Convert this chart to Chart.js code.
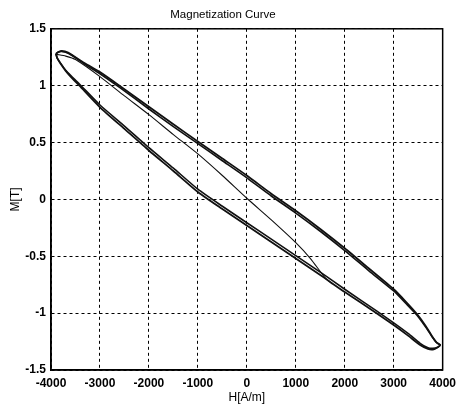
<!DOCTYPE html>
<html>
<head>
<meta charset="utf-8">
<title>Magnetization Curve</title>
<script src="https://cdn.jsdelivr.net/npm/chart.js@4.4.1/dist/chart.umd.min.js"></script>
<style>
  html, body { margin: 0; padding: 0; background: #fff; }
</style>
</head>
<body>
<canvas id="chart" width="462" height="408"></canvas>
<script>
// tick labels
const hTicks = [-4000, -3000, -2000, -1000, 0, 1000, 2000, 3000, 4000];
const mTicks = [-1.5, -1, -0.5, 0, 0.5, 1, 1.5];

// hysteresis loop: upper branch left -> right, then lower branch right -> left
const loopH = [
    -3900, -3850, -3780, -3650, -3500, -3300, -3000, -2600, -2000, -1500, -1000, -500, 0,
    500, 1000, 1500, 2000, 2500, 3000, 3250, 3480, 3650, 3780, 3880, 3950,
    3900, 3800, 3700, 3540, 3300, 3000, 2650, 2000, 1500, 1000, 500, 0,
    -500, -1000, -1500, -2000, -2500, -3000, -3420, -3600, -3700, -3800, -3870, -3900
];
// two traces of the same loop (they run side by side)
const loopM1 = [
    1.28, 1.295, 1.305, 1.29, 1.25, 1.195, 1.12, 1.00, 0.815, 0.66, 0.51, 0.36, 0.21,
    0.05, -0.10, -0.26, -0.43, -0.61, -0.79, -0.90, -1.01, -1.11, -1.20, -1.26, -1.28,
    -1.30, -1.32, -1.315, -1.28, -1.20, -1.105, -1.00, -0.815, -0.665, -0.52, -0.375, -0.23,
    -0.085, 0.065, 0.25, 0.43, 0.62, 0.81, 1.00, 1.08, 1.13, 1.19, 1.24, 1.28
];
const loopM2 = [
    1.28, 1.295, 1.30, 1.285, 1.245, 1.185, 1.105, 0.985, 0.795, 0.64, 0.49, 0.34, 0.19,
    0.03, -0.12, -0.28, -0.45, -0.63, -0.805, -0.915, -1.02, -1.12, -1.205, -1.26, -1.28,
    -1.30, -1.31, -1.305, -1.265, -1.18, -1.085, -0.98, -0.79, -0.64, -0.495, -0.35, -0.205,
    -0.06, 0.09, 0.275, 0.455, 0.645, 0.83, 1.015, 1.09, 1.135, 1.195, 1.24, 1.28
];

// thin inner trace from the left tip down to the lower branch
const innerH = [-3880, -3700, -3500, -3000, -2500, -2000, -1500, -1000, -500, 0, 500, 1000, 1300, 1600, 1750];
const innerM = [1.275, 1.26, 1.23, 1.08, 0.91, 0.745, 0.57, 0.40, 0.21, 0.01, -0.18, -0.38, -0.52, -0.69, -0.745];

const toPoints = (xs, ys) => xs.map((x, i) => ({ x: x, y: ys[i] }));

const tickFont = { family: "'Liberation Sans', Arial, sans-serif", size: 12, weight: 'bold' };
const textFont = { family: "'Liberation Sans', Arial, sans-serif", size: 12, weight: 'normal' };

// black frame round the plot area
const framePlugin = {
    id: 'frame',
    afterDraw(chart) {
        const a = chart.chartArea;
        const ctx = chart.ctx;
        ctx.save();
        ctx.strokeStyle = '#000';
        ctx.lineWidth = 1.5;
        ctx.strokeRect(a.left, a.top, a.right - a.left, a.bottom - a.top);
        ctx.restore();
    }
};

const lineStyle = {
    showLine: true,
    pointRadius: 0,
    borderColor: '#111',
    tension: 0.2,
    fill: false
};

new Chart(document.getElementById('chart'), {
    type: 'scatter',
    data: {
        datasets: [
            { ...lineStyle, label: 'loop 1', data: toPoints(loopH, loopM1), borderWidth: 1.8 },
            { ...lineStyle, label: 'loop 2', data: toPoints(loopH, loopM2), borderWidth: 1.6 },
            { ...lineStyle, label: 'inner', data: toPoints(innerH, innerM), borderWidth: 1.1 }
        ]
    },
    options: {
        responsive: false,
        animation: false,
        devicePixelRatio: 1,
        layout: { padding: { left: 0, right: 16, top: 0, bottom: 0 } },
        plugins: {
            legend: { display: false },
            tooltip: { enabled: false },
            title: {
                display: true,
                text: 'Magnetization Curve',
                color: '#000',
                font: { ...textFont, size: 11.5 },
                padding: { top: 8, bottom: 7 }
            }
        },
        scales: {
            x: {
                type: 'linear',
                min: -4000,
                max: 4000,
                afterBuildTicks: scale => { scale.ticks = hTicks.map(v => ({ value: v })); },
                afterFit: scale => { scale.height = 38; },
                ticks: { color: '#000', font: tickFont, padding: 6, maxRotation: 0, callback: v => String(v) },
                grid: { color: '#000', lineWidth: 1, drawTicks: false },
                border: { display: true, color: '#000', width: 1.5, dash: [3, 3] },
                title: { display: true, text: 'H[A/m]', color: '#000', font: textFont, padding: { top: 0, bottom: 3 } }
            },
            y: {
                type: 'linear',
                min: -1.5,
                max: 1.5,
                afterBuildTicks: scale => { scale.ticks = mTicks.map(v => ({ value: v })); },
                afterFit: scale => { scale.width = 51; },
                ticks: { color: '#000', font: tickFont, padding: 5, callback: v => String(v) },
                grid: { color: '#000', lineWidth: 1, drawTicks: false },
                border: { display: true, color: '#000', width: 1.5, dash: [3, 3] },
                title: { display: true, text: 'M[T]', color: '#000', font: textFont, padding: { top: 8, bottom: 0 } }
            }
        }
    },
    plugins: [framePlugin]
});
</script>
</body>
</html>
